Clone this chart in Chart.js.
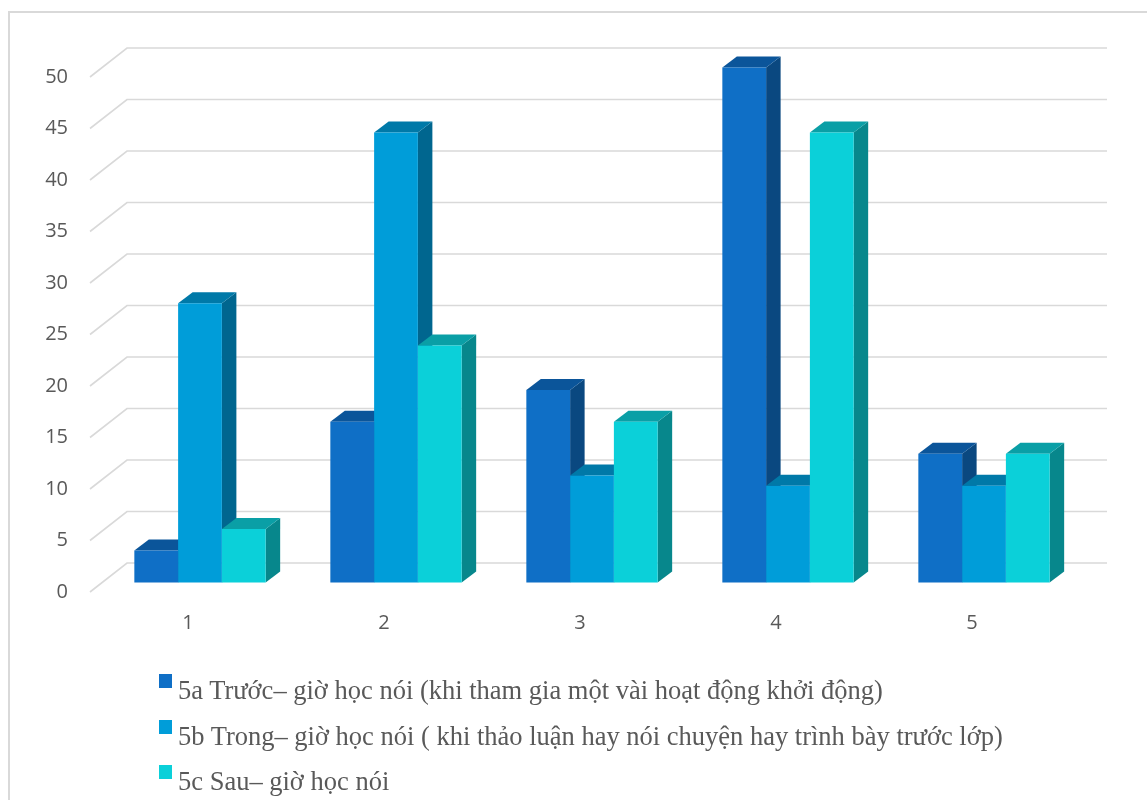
<!DOCTYPE html>
<html>
<head>
<meta charset="utf-8">
<script src="https://cdn.jsdelivr.net/npm/chart.js@4/dist/chart.umd.min.js"></script>
<style>
    html, body { margin: 0; padding: 0; background: #fff; }
    #wrap { position: relative; width: 1147px; height: 800px; overflow: hidden; }
    #frame { position: absolute; left: 8px; top: 11px; width: 1200px; height: 850px; border: 2px solid #d9d9d9; box-sizing: border-box; }
    #legend { position: absolute; left: 159px; top: 668px; font-family: "Liberation Serif", "Times New Roman", serif; font-size: 26.5px; color: #595959; }
    .lg-item { display: flex; align-items: flex-start; height: 45.5px; line-height: 45.5px; white-space: nowrap; }
    .lg-box { width: 13px; height: 14px; margin-top: 6px; margin-right: 6px; flex: none; }
</style>
</head>
<body>
<div id="wrap">
    <div id="frame"></div>
    <canvas id="chart" width="1147" height="800"></canvas>
    <div id="legend"></div>
</div>
<script>
// --- data ---
const categories = ['1', '2', '3', '4', '5'];
const truoc = [3.1, 15.6, 18.7, 50.0, 12.5];
const trong = [27.1, 43.7, 10.4, 9.4, 9.4];
const sau = [5.2, 23.0, 15.6, 43.7, 12.5];
const seriesLabels = [
    '5a Trước– giờ học nói (khi tham gia một vài hoạt động khởi động)',
    '5b Trong– giờ học nói ( khi thảo luận hay nói chuyện hay trình bày trước lớp)',
    '5c Sau– giờ học nói'
];
const yTicks = [0, 5, 10, 15, 20, 25, 30, 35, 40, 45, 50];

// front / side / top colours per series
const palette = [
    { front: '#0F6FC6', side: '#0A4880', top: '#0B559A' },
    { front: '#009DD9', side: '#00668F', top: '#0079A8' },
    { front: '#0BD0D9', side: '#07878C', top: '#0A9FA6' }
];

// 3D offsets (px): back wall, bar front plane, bar depth
const WALL = { dx: 37, dy: -29 };
const BAR = { dx: 12, dy: -9.5 };
const DEPTH = { dx: 14.5, dy: -11 };

const fake3d = {
    id: 'fake3d',
    beforeDatasetsDraw(chart) {
        const { ctx, chartArea, scales } = chart;
        const y = scales.y;

        // gridlines: floor diagonal + back wall line
        ctx.save();
        ctx.strokeStyle = '#d9d9d9';
        ctx.lineWidth = 1.6;
        yTicks.forEach(v => {
            const py = y.getPixelForValue(v);
            ctx.beginPath();
            ctx.moveTo(chartArea.left, py);
            ctx.lineTo(chartArea.left + WALL.dx, py + WALL.dy);
            ctx.lineTo(chartArea.right + WALL.dx, py + WALL.dy);
            ctx.stroke();
        });
        ctx.restore();

        // shift bars into the middle of the floor, draw side + top faces
        ctx.save();
        ctx.translate(BAR.dx, BAR.dy);
        categories.forEach((c, i) => {
            chart.data.datasets.forEach((ds, d) => {
                const el = chart.getDatasetMeta(d).data[i];
                const half = el.width / 2;
                const l = el.x - half, r = el.x + half;
                const t = el.y, b = el.base;
                const col = palette[d];
                // side
                ctx.fillStyle = col.side;
                ctx.beginPath();
                ctx.moveTo(r, t);
                ctx.lineTo(r + DEPTH.dx, t + DEPTH.dy);
                ctx.lineTo(r + DEPTH.dx, b + DEPTH.dy);
                ctx.lineTo(r, b);
                ctx.closePath();
                ctx.fill();
                // top
                ctx.fillStyle = col.top;
                ctx.beginPath();
                ctx.moveTo(l, t);
                ctx.lineTo(l + DEPTH.dx, t + DEPTH.dy);
                ctx.lineTo(r + DEPTH.dx, t + DEPTH.dy);
                ctx.lineTo(r, t);
                ctx.closePath();
                ctx.fill();
            });
        });
    },
    afterDatasetsDraw(chart) {
        chart.ctx.restore();
    }
};

const chart = new Chart(document.getElementById('chart'), {
    type: 'bar',
    data: {
        labels: categories,
        datasets: [truoc, trong, sau].map((vals, d) => ({
            label: seriesLabels[d],
            data: vals,
            backgroundColor: palette[d].front,
            borderWidth: 0,
            barPercentage: 1,
            categoryPercentage: 0.67,
            clip: false
        }))
    },
    options: {
        responsive: false,
        animation: false,
        layout: { padding: { left: 0, top: 77, right: 77, bottom: 0 } },
        plugins: {
            legend: { display: false },
            tooltip: { enabled: false }
        },
        scales: {
            x: {
                grid: { display: false, drawTicks: false },
                border: { display: false },
                ticks: {
                    padding: 19,
                    color: '#595959',
                    font: { family: 'Open Sans', size: 20 }
                },
                afterFit: s => { s.height = 208; }
            },
            y: {
                min: 0,
                max: 50,
                grid: { display: false, drawTicks: false },
                border: { display: false },
                ticks: {
                    stepSize: 5,
                    padding: 22,
                    color: '#595959',
                    font: { family: 'Open Sans', size: 20 }
                },
                afterFit: s => { s.width = 90; }
            }
        }
    },
    plugins: [fake3d]
});

// --- HTML legend built from the datasets ---
const legendEl = document.getElementById('legend');
chart.data.datasets.forEach(ds => {
    const row = document.createElement('div');
    row.className = 'lg-item';
    const box = document.createElement('span');
    box.className = 'lg-box';
    box.style.background = ds.backgroundColor;
    const txt = document.createElement('span');
    txt.textContent = ds.label;
    row.appendChild(box);
    row.appendChild(txt);
    legendEl.appendChild(row);
});
</script>
</body>
</html>
